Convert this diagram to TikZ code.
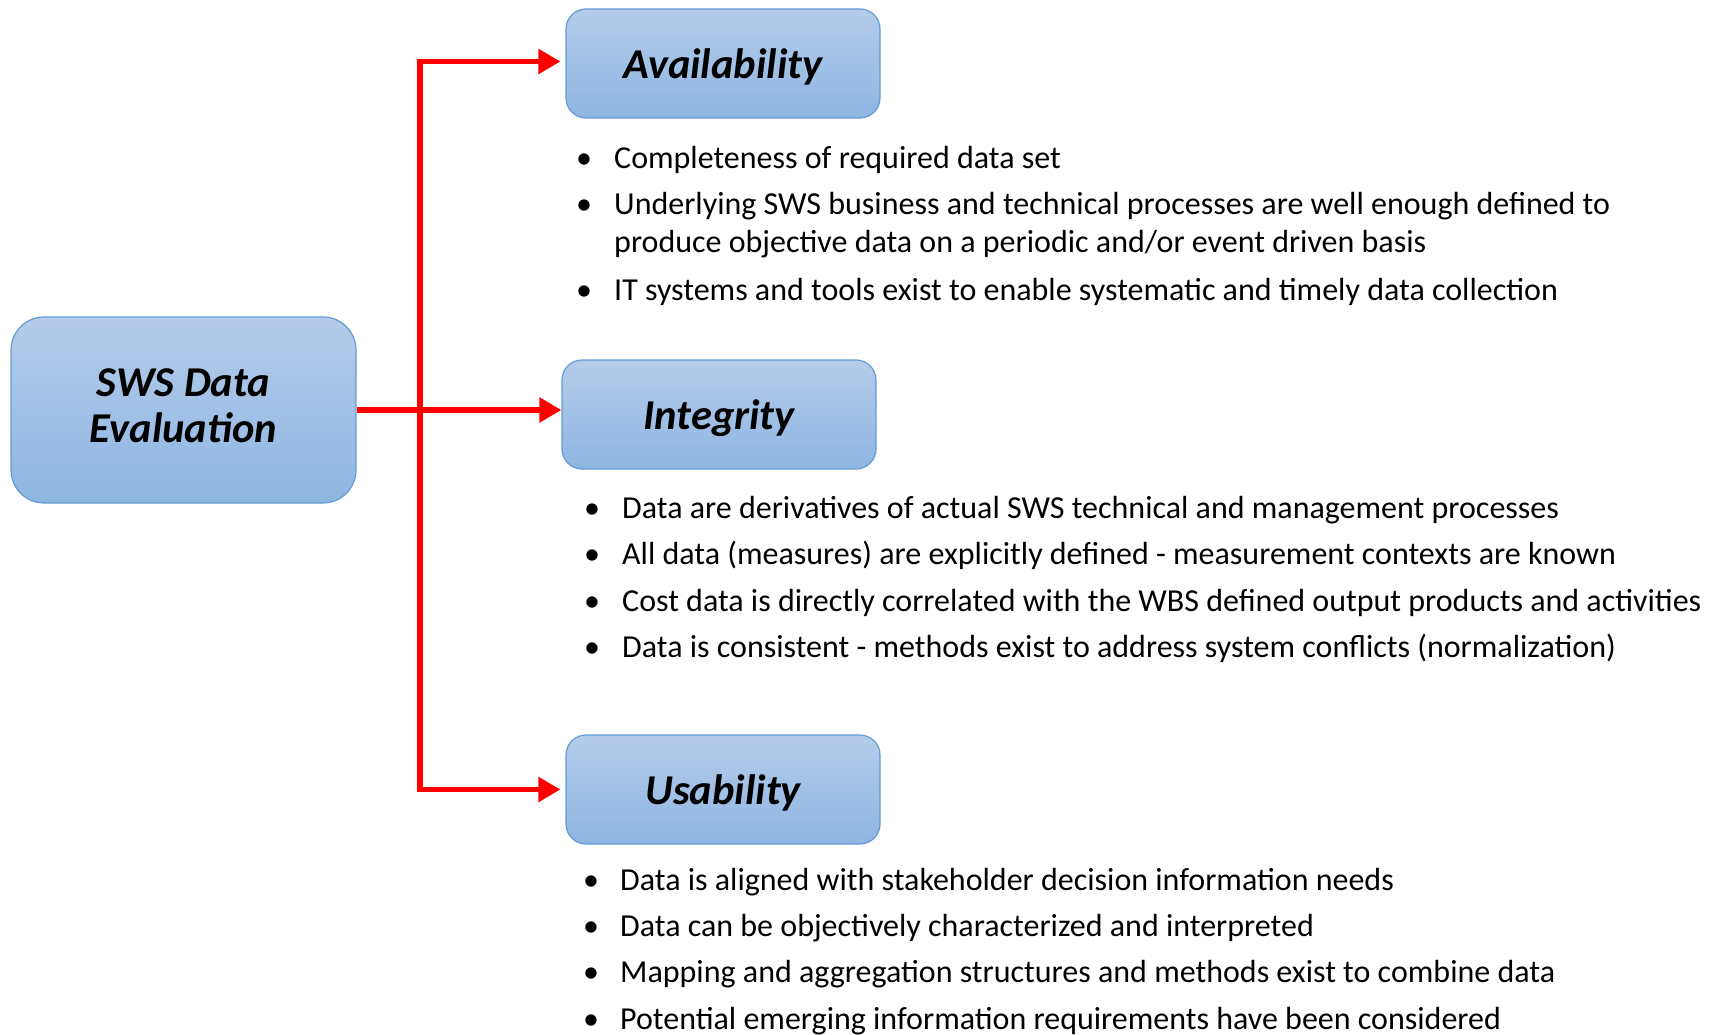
\documentclass[tikz,border=0pt]{standalone}
\usepackage{fontspec}
\setmainfont{Carlito}
\usetikzlibrary{arrows.meta}
\definecolor{boxtop}{RGB}{180,204,233}
\definecolor{boxbot}{RGB}{143,181,226}
\definecolor{boxline}{RGB}{100,155,212}
\definecolor{conred}{RGB}{255,0,0}
\tikzset{
  catbox/.style={draw=boxline, line width=1.2pt, top color=boxtop, bottom color=boxbot,
    rounded corners=20pt, minimum width=314pt, minimum height=109pt, inner sep=0pt,
    font=\fontsize{42.5}{46}\selectfont\bfseries\itshape, align=center},
  redline/.style={draw=conred, line width=5.5pt, line join=miter},
  tip/.style={-{Triangle[length=22pt,width=24pt]}},
  bul/.style={anchor=base, inner sep=0pt, font=\fontsize{32}{38}\selectfont},
  item/.style={anchor=base west, inner sep=0pt, font=\fontsize{32}{38}\selectfont, align=left},
}
\begin{document}
\begin{tikzpicture}[x=1pt,y=-1pt]
\useasboundingbox (0,0) rectangle (1719,1035);
% boxes
\node[catbox, rounded corners=33pt, minimum width=345pt, minimum height=186pt, text depth=9pt] (main) at (183.5,410) {SWS Data\\Evaluation};
\node[catbox, text depth=0pt] (avail) at (723,63.5) {Availability};
\node[catbox, text depth=0pt] (integ) at (719,414.5) {Integrity};
\node[catbox, text depth=0pt] (usab) at (723,789.5) {Usability};
% connectors
\coordinate (j) at (420,411);
\draw[redline, tip] (main.east) -- (main.east -| integ.west);
\draw[redline, {Triangle[length=22pt,width=24pt]}-{Triangle[length=22pt,width=24pt]}] ([xshift=-5pt,yshift=2pt]avail.west) -| (j) |- ([xshift=-5pt]usab.west);
% Availability bullets
\node[bul] (ab1) at (584,169) {•};
\node[item] (at1) at (614,169) {Completeness of required data set};
\node[bul] (ab2) at (584,215) {•};
\node[item] (at2) at (614,253) {Underlying SWS business and technical processes are well enough defined to\\produce objective data on a periodic and/or event driven basis};
\node[bul] (ab3) at (584,300) {•};
\node[item] (at3) at (614,300) {IT systems and tools exist to enable systematic and timely data collection};
% Integrity bullets
\node[bul] (ib1) at (592,518) {•};
\node[item] (it1) at (622,518) {Data are derivatives of actual SWS technical and management processes};
\node[bul] (ib2) at (592,564) {•};
\node[item] (it2) at (622,564) {All data (measures) are explicitly defined - measurement contexts are known};
\node[bul] (ib3) at (592,611) {•};
\node[item] (it3) at (622,611) {Cost data is directly correlated with the WBS defined output products and activities};
\node[bul] (ib4) at (592,657) {•};
\node[item] (it4) at (622,657) {Data is consistent - methods exist to address system conflicts (normalization)};
% Usability bullets
\node[bul] (ub1) at (591,890) {•};
\node[item] (ut1) at (620,890) {Data is aligned with stakeholder decision information needs};
\node[bul] (ub2) at (591,936) {•};
\node[item] (ut2) at (620,936) {Data can be objectively characterized and interpreted};
\node[bul] (ub3) at (591,982) {•};
\node[item] (ut3) at (620,982) {Mapping and aggregation structures and methods exist to combine data};
\node[bul] (ub4) at (591,1029) {•};
\node[item] (ut4) at (620,1029) {Potential emerging information requirements have been considered};
\end{tikzpicture}
\end{document}
